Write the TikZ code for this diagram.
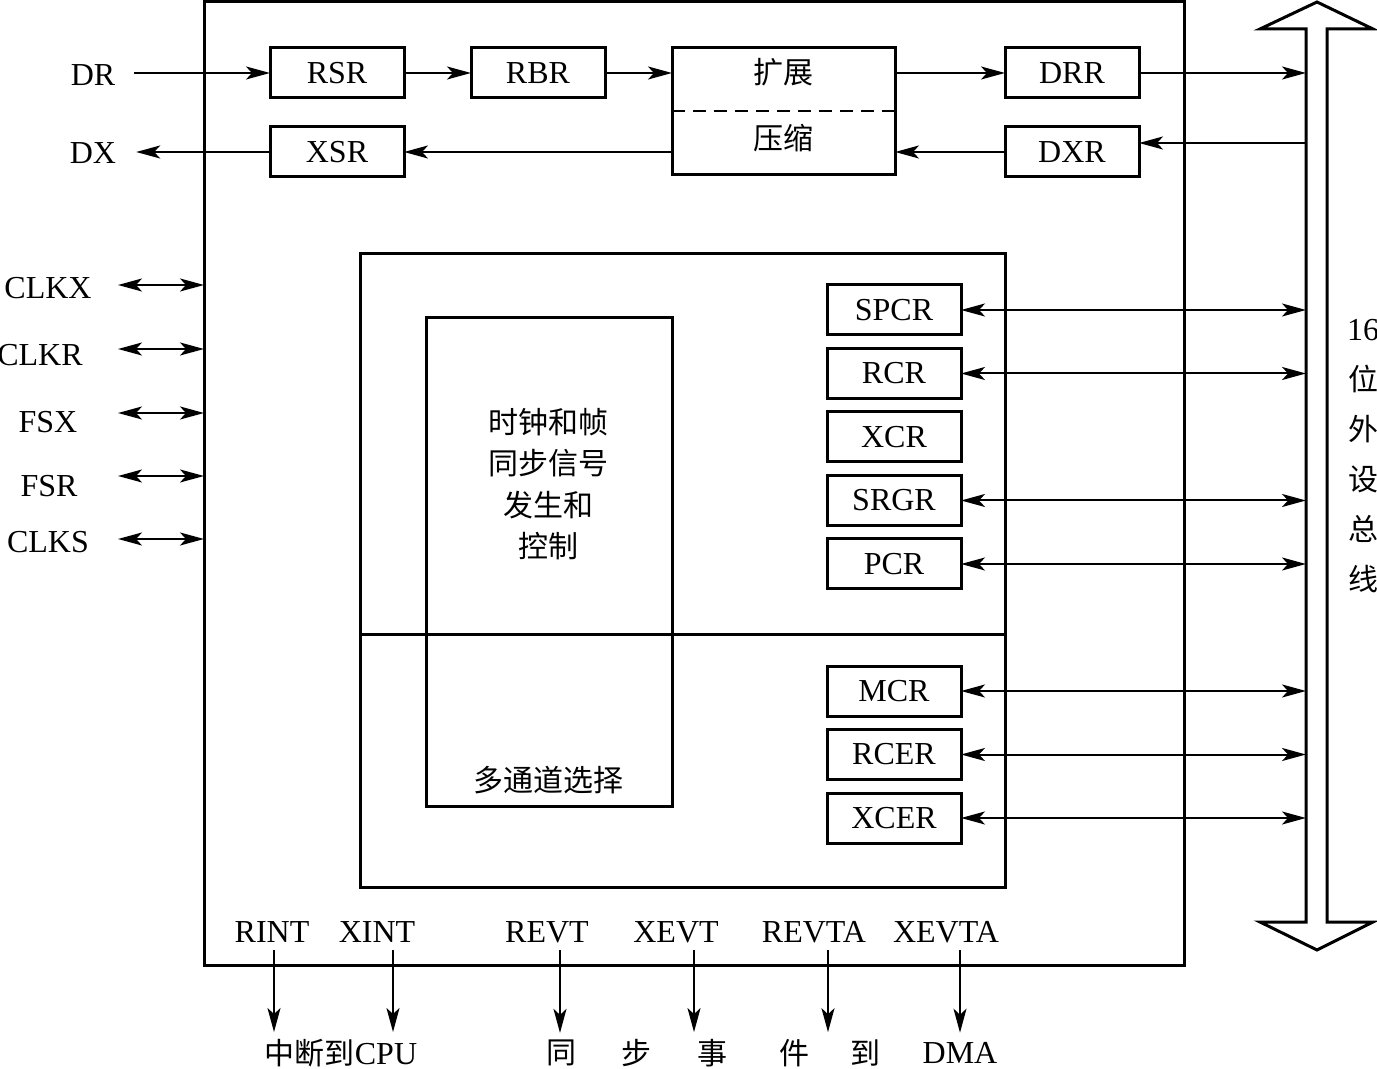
\documentclass[tikz,border=0pt]{standalone}
\usepackage{fontspec}
\setmainfont{Liberation Serif}
\newfontfamily\cjk{Noto Sans CJK SC}
\usetikzlibrary{arrows.meta, positioning}

\begin{document}
\begin{tikzpicture}[
    x=0.5pt, y=-0.5pt,
    font=\fontsize{16}{19}\selectfont,
    node distance=6.75pt,
    reg/.style={draw, rectangle, line width=1.5pt, minimum width=67pt, minimum height=25pt, inner sep=0pt, outer sep=0pt},
    frame/.style={draw, rectangle, line width=1.5pt, inner sep=0pt, outer sep=0pt},
    zh/.style={font=\cjk\fontsize{15}{21}\selectfont},
    tip/.tip={Stealth[length=12pt, width=6.5pt, inset=3pt]},
    arrow/.style={-tip, line width=1pt},
    biarrow/.style={tip-tip, line width=1pt}
]
\useasboundingbox (0,0) rectangle (1377,1069);

% Frames
\node[frame, minimum width=490pt, minimum height=481.5pt] (mcbsp) at (694,483.5) {};
\node[frame, minimum width=322.5pt, minimum height=316.5pt] (ctrl) at (682.5,570.5) {};
\node[frame, minimum width=123pt, minimum height=244pt] (clkgen) at (549,562) {};
\coordinate (split) at (0,634);
\draw[line width=1.5pt] (ctrl.west |- split) -- (ctrl.east |- split);
\node[zh, align=center, font=\cjk\fontsize{15}{20.75}\selectfont] (clktext) at (548,484) {时钟和帧\\同步信号\\发生和\\控制};
\node[zh] (mux) at (548,780) {多通道选择};

% Data path
\node[reg] (rsr) at (337,73) {RSR};
\node[reg] (rbr) at (538,73) {RBR};
\node[reg] (drr) at (1072,73) {DRR};
\node[reg, below=14.5pt of rsr] (xsr) {XSR};
\node[reg, below=14.5pt of drr] (dxr) {DXR};
\node[frame, minimum width=111.5pt, minimum height=63.5pt] (codec) at (783.5,111.5) {};
\draw[line width=1pt, dash pattern=on 6.5pt off 4pt] (codec.west) -- (codec.east);
\node[zh] (expand) at (783.5,72) {扩展};
\node[zh] (compress) at (783.5,138) {压缩};
\node (dr) at (93,75) {DR};
\node (dx) at (93,153) {DX};

% Registers
\node[reg] (spcr) at (894,310) {SPCR};
\node[reg, below=of spcr] (rcr) {RCR};
\node[reg, below=of rcr] (xcr) {XCR};
\node[reg, below=of xcr] (srgr) {SRGR};
\node[reg, below=of srgr] (pcr) {PCR};
\node[reg] (mcr) at (894,691) {MCR};
\node[reg, below=of mcr] (rcer) {RCER};
\node[reg, below=of rcer] (xcer) {XCER};

% Peripheral bus
\coordinate (bus) at (1306,0);
\draw[line width=1.5pt] (1306,922) -- (1306,29) -- (1260,29) -- (1317,2) -- (1373,29)
    -- (1327,29) -- (1327,922) -- (1373,922) -- (1317,950) -- (1260,922) -- cycle;
\node[zh, align=center, font=\cjk\fontsize{15}{25}\selectfont] (buslabel) at (1363,456)
    {{\rmfamily\fontsize{16}{25}\selectfont 16}\\位\\外\\设\\总\\线};

% Arrows
\coordinate (dxr-out) at ([yshift=4.5pt]dxr.east);
\draw[arrow, shorten <=6pt] (dr.east |- rsr.west) -- (rsr.west);
\draw[arrow] (rsr) -- (rbr);
\draw[arrow] (rbr.east) -- (rbr.east -| codec.west);
\draw[arrow] (codec.east |- drr.west) -- (drr.west);
\draw[arrow] (drr.east) -- (drr.east -| bus);
\draw[arrow] (bus |- dxr-out) -- (dxr-out);
\draw[arrow] (dxr.west) -- (dxr.west -| codec.east);
\draw[arrow] (codec.west |- xsr.east) -- (xsr.east);
\draw[arrow, shorten >=6.5pt] (xsr.west) -- (xsr.west -| dx.east);
\foreach \r in {spcr, rcr, srgr, pcr, mcr, rcer, xcer}
    \draw[biarrow] (\r.east) -- (\r.east -| bus);

% Clock and frame pins
\foreach \n/\t/\x/\yt/\ya in {clkx/CLKX/48/288/285, clkr/CLKR/40/355/349,
        fsx/FSX/48/422/413, fsr/FSR/49/486/476, clks/CLKS/48/542/539} {
    \node (\n) at (\x,\yt) {\t};
    \coordinate (\n-pin) at (118,\ya);
    \draw[biarrow] (\n-pin) -- (\n-pin -| mcbsp.west);
}

% Events
\node[zh] (cpu) at (341,1053) {中断到{\rmfamily\fontsize{16}{19}\selectfont CPU}};
\foreach \n/\t/\x in {dma1/同/561, dma2/步/636, dma3/事/712, dma4/件/794, dma5/到/865}
    \node[zh] (\n) at (\x,1053) {\t};
\node (dma6) at (960,1053) {DMA};
\foreach \n/\t/\xt/\xa/\dst in {rint/RINT/272/274/cpu, xint/XINT/377/393/cpu,
        revt/REVT/547/560/dma1, xevt/XEVT/676/694/dma3,
        revta/REVTA/814/828/dma4, xevta/XEVTA/946/960/dma5} {
    \node (\n) at (\xt,932) {\t};
    \coordinate (\n-pin) at (\xa,950);
    \draw[arrow] (\n-pin) -- (\n-pin |- \dst.north);
}
\end{tikzpicture}
\end{document}
